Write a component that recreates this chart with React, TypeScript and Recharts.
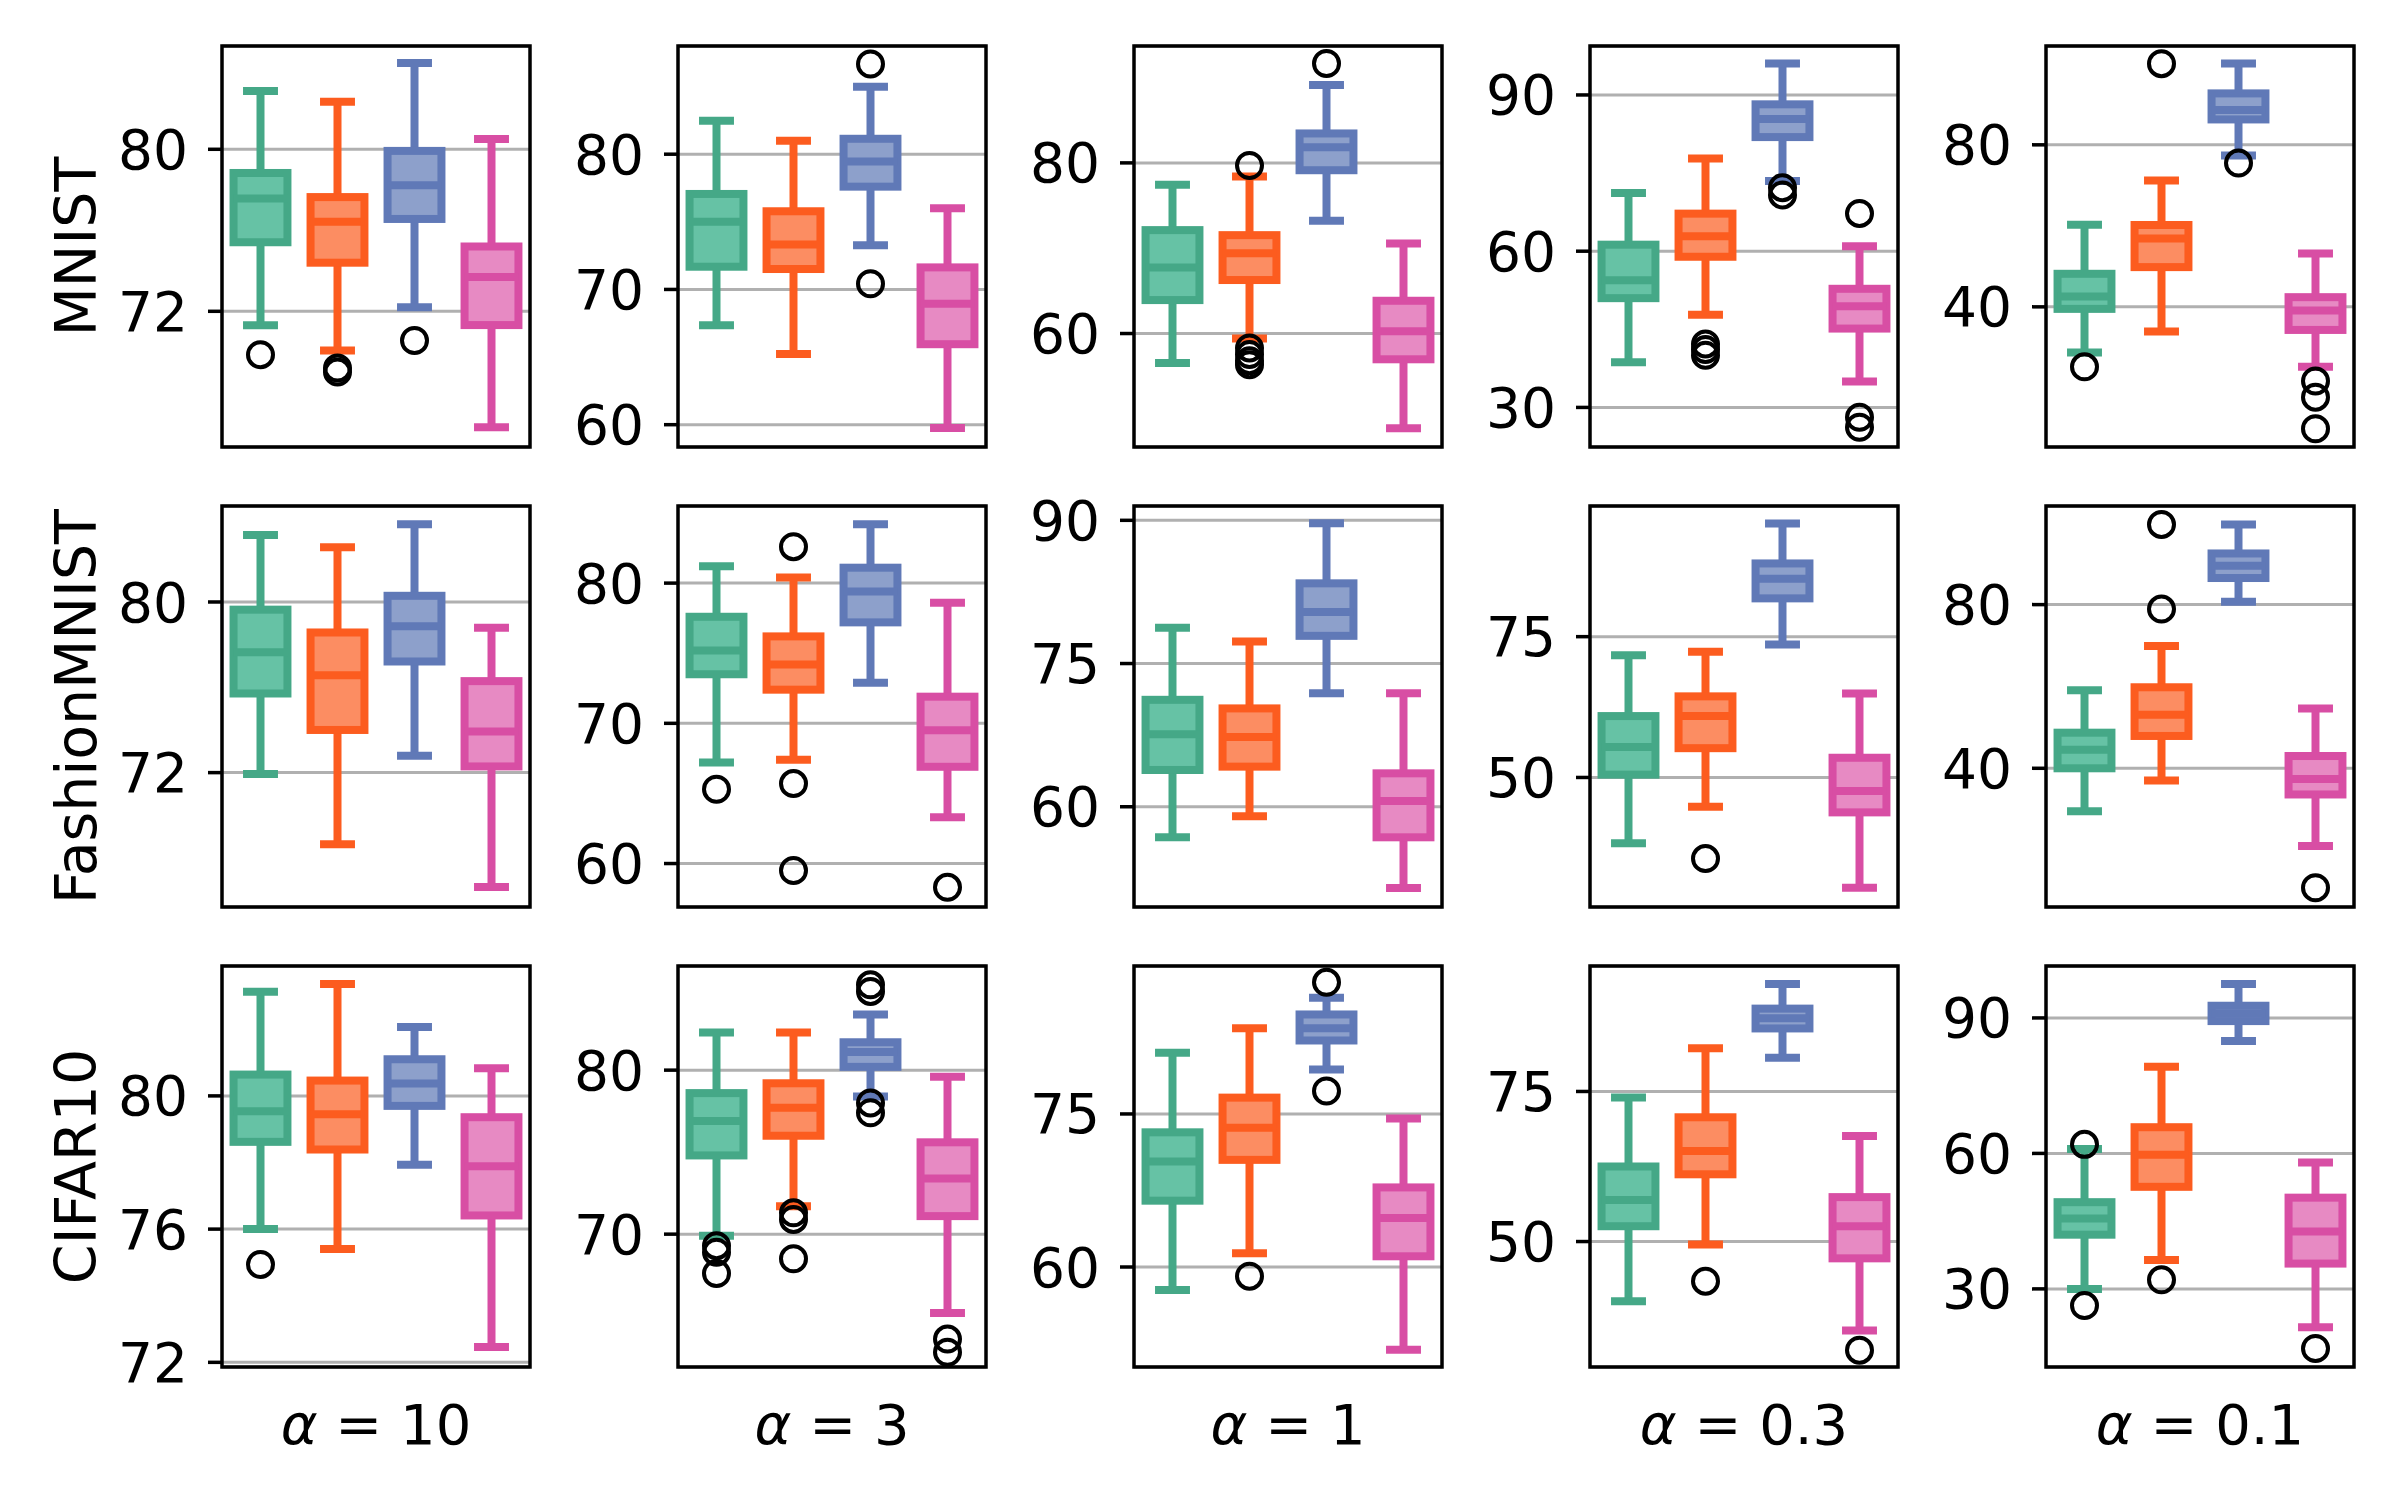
import React from "react";
import { ComposedChart, Bar, XAxis, YAxis, CartesianGrid } from "recharts";

const DATASETS = ["MNIST", "FashionMNIST", "CIFAR10"];
const ALPHAS = ["10", "3", "1", "0.3", "0.1"];
const METHODS = ["m1", "m2", "m3", "m4"];

const EDGE = ["#45a887", "#fc5c1f", "#6079b7", "#d84ea4"];
const FILL = ["#66c2a5", "#fc8d62", "#8da0cb", "#e78ac3"];
const FONT = "'DejaVu Sans', sans-serif";

// each method: [lower whisker, q1, median, q3, upper whisker]
const MNIST_10 = [
  [71.31, 75.41, 77.57, 78.83, 82.88],
  [70.07, 74.4, 76.42, 77.64, 82.35],
  [72.2, 76.56, 78.23, 79.92, 84.26],
  [66.27, 71.32, 73.7, 75.2, 80.51],
];
const MNIST_10_OUT = [[69.86], [69.2, 69.0], [70.56], []];

const MNIST_3 = [
  [67.36, 71.68, 75.01, 77.06, 82.47],
  [65.23, 71.51, 73.33, 75.78, 80.99],
  [73.26, 77.6, 79.46, 81.14, 84.99],
  [59.75, 65.95, 68.94, 71.63, 76.0],
];
const MNIST_3_OUT = [[], [], [86.67, 70.42], []];

const MNIST_1 = [
  [56.55, 63.92, 67.73, 72.12, 77.45],
  [59.41, 66.27, 69.41, 71.53, 78.39],
  [73.22, 79.14, 81.84, 83.45, 89.14],
  [48.9, 56.98, 60.27, 63.84, 70.55],
];
const MNIST_1_OUT = [[], [79.69, 58.31, 57.53, 56.82, 56.35], [91.65], []];

const MNIST_03 = [
  [38.66, 50.98, 54.42, 61.25, 71.19],
  [47.78, 58.93, 62.89, 67.21, 77.8],
  [73.5, 81.91, 85.38, 88.2, 96.03],
  [35.0, 45.14, 49.44, 52.78, 60.96],
];
const MNIST_03_OUT = [[], [42.2, 41.1, 40.0], [72.2, 70.8], [67.25, 28.1, 26.2]];

const MNIST_01 = [
  [28.7, 39.5, 42.56, 48.16, 60.29],
  [33.9, 49.81, 56.9, 60.21, 71.18],
  [77.36, 86.27, 88.6, 92.7, 100.1],
  [25.2, 34.3, 39.1, 42.39, 53.2],
];
const MNIST_01_OUT = [[25.2], [100.04], [75.5], [21.7, 17.7, 9.9]];

const FASHION_10 = [
  [71.93, 75.71, 77.64, 79.64, 83.14],
  [68.64, 74.0, 76.57, 78.57, 82.57],
  [72.79, 77.21, 78.86, 80.29, 83.64],
  [66.64, 72.29, 73.93, 76.29, 78.79],
];
const FASHION_10_OUT = [[], [], [], []];

const FASHION_3 = [
  [67.2, 73.5, 75.2, 77.6, 81.2],
  [67.4, 72.4, 74.2, 76.2, 80.4],
  [72.9, 77.2, 79.4, 81.1, 84.2],
  [63.3, 66.9, 69.5, 71.9, 78.6],
];
const FASHION_3_OUT = [[65.3], [82.6, 65.7, 59.5], [], [58.3]];

const FASHION_1 = [
  [56.8, 63.85, 67.6, 71.2, 78.76],
  [59.0, 64.2, 67.3, 70.3, 77.3],
  [71.9, 77.9, 80.4, 83.4, 89.7],
  [51.5, 56.8, 60.6, 63.5, 71.9],
];
const FASHION_1_OUT = [[], [], [], []];

const FASHION_03 = [
  [38.3, 50.5, 55.4, 60.9, 71.7],
  [44.8, 55.2, 60.9, 64.4, 72.3],
  [73.6, 81.8, 85.3, 88.0, 95.1],
  [30.4, 43.8, 47.6, 53.5, 64.9],
];
const FASHION_03_OUT = [[], [35.6], [], []];

const FASHION_01 = [
  [29.5, 40.0, 44.5, 48.7, 59.1],
  [37.0, 47.9, 53.1, 59.8, 69.9],
  [80.7, 86.5, 89.5, 92.5, 99.6],
  [21.0, 33.6, 37.4, 43.0, 54.6],
];
const FASHION_01_OUT = [[], [99.6, 78.9], [], [10.8]];

const CIFAR_10 = [
  [76.0, 78.62, 79.54, 80.64, 83.13],
  [75.4, 78.39, 79.45, 80.46, 83.36],
  [77.93, 79.7, 80.37, 81.1, 82.07],
  [72.46, 76.41, 77.89, 79.36, 80.83],
];
const CIFAR_10_OUT = [[74.94], [], [], []];

const CIFAR_3 = [
  [69.9, 74.8, 76.9, 78.6, 82.3],
  [71.7, 76.0, 77.7, 79.2, 82.3],
  [78.4, 80.2, 81.1, 81.7, 83.4],
  [65.2, 71.1, 73.4, 75.6, 79.6],
];
const CIFAR_3_OUT = [[69.3, 68.9, 67.6], [71.3, 70.9, 68.5], [85.2, 84.8, 78.0, 77.4], [63.6, 62.8]];

const CIFAR_1 = [
  [57.75, 66.5, 70.35, 73.2, 81.0],
  [61.35, 70.5, 73.65, 76.6, 83.4],
  [79.35, 82.2, 83.4, 84.75, 86.4],
  [51.9, 61.05, 64.8, 67.8, 74.55],
];
const CIFAR_1_OUT = [[], [59.1], [87.9, 77.25], []];

const CIFAR_03 = [
  [40.05, 52.55, 56.9, 62.5, 74.0],
  [49.5, 61.2, 65.1, 70.7, 82.2],
  [80.6, 85.5, 87.2, 88.8, 92.9],
  [35.2, 47.2, 52.55, 57.4, 67.6],
];
const CIFAR_03_OUT = [[], [43.4], [], [31.9]];

const CIFAR_01 = [
  [30.0, 42.0, 45.6, 49.2, 61.0],
  [36.4, 52.6, 59.7, 65.8, 79.2],
  [84.9, 89.3, 91.0, 92.7, 97.5],
  [21.5, 35.6, 42.7, 50.2, 58.0],
];
const CIFAR_01_OUT = [[62.0, 26.3], [32.0], [], [16.8]];

// y limits and ticks per panel (rows = datasets, cols = alphas)
const MNIST_Y = [[65.3, 85.1], [58.35, 88.0], [46.7, 93.7], [22.4, 99.4], [5.4, 104.4]];
const FASHION_Y = [[65.7, 84.5], [56.9, 85.5], [49.5, 91.5], [27.0, 98.2], [6.1, 104.1]];
const CIFAR_Y = [[71.86, 83.9], [61.9, 86.35], [50.2, 89.5], [29.1, 95.9], [12.7, 101.5]];

const MNIST_TICKS = [[72, 80], [60, 70, 80], [60, 80], [30, 60, 90], [40, 80]];
const FASHION_TICKS = [[72, 80], [60, 70, 80], [60, 75, 90], [50, 75], [40, 80]];
const CIFAR_TICKS = [[72, 76, 80], [70, 80], [60, 75], [50, 75], [30, 60, 90]];

const STATS = [
  [MNIST_10, MNIST_3, MNIST_1, MNIST_03, MNIST_01],
  [FASHION_10, FASHION_3, FASHION_1, FASHION_03, FASHION_01],
  [CIFAR_10, CIFAR_3, CIFAR_1, CIFAR_03, CIFAR_01],
];
const OUTLIERS = [
  [MNIST_10_OUT, MNIST_3_OUT, MNIST_1_OUT, MNIST_03_OUT, MNIST_01_OUT],
  [FASHION_10_OUT, FASHION_3_OUT, FASHION_1_OUT, FASHION_03_OUT, FASHION_01_OUT],
  [CIFAR_10_OUT, CIFAR_3_OUT, CIFAR_1_OUT, CIFAR_03_OUT, CIFAR_01_OUT],
];
const YLIMS = [MNIST_Y, FASHION_Y, CIFAR_Y];
const TICKS = [MNIST_TICKS, FASHION_TICKS, CIFAR_TICKS];

const PLOT_LEFT = 222;
const PLOT_TOP = 46;
const COL_STEP = 456;
const ROW_STEP = 460;
const PLOT_W = 308;
const PLOT_H = 401;
const AXIS_W = 140;
const PAD_V = 40; // room above/below the plot so edge tick labels are not clipped
const LW = 8;

function BoxShape(props: any) {
  const { x, y, width, height, index } = props;
  const d = props.payload ?? props;
  const top = Math.min(y, y + height);
  const h = Math.abs(height);
  const k = h / (d.hi - d.lo);
  const py = (v: number) => top + (d.hi - v) * k;
  const cx = x + width / 2;
  const bw = width * 0.7;
  const cap = width * 0.175;
  const edge = EDGE[index % 4];
  const fill = FILL[index % 4];
  return (
    <g>
      <line x1={cx} x2={cx} y1={py(d.hi)} y2={py(d.q3)} stroke={edge} strokeWidth={LW} />
      <line x1={cx} x2={cx} y1={py(d.q1)} y2={py(d.lo)} stroke={edge} strokeWidth={LW} />
      <line x1={cx - cap} x2={cx + cap} y1={py(d.hi)} y2={py(d.hi)} stroke={edge} strokeWidth={LW} strokeLinecap="square" />
      <line x1={cx - cap} x2={cx + cap} y1={py(d.lo)} y2={py(d.lo)} stroke={edge} strokeWidth={LW} strokeLinecap="square" />
      <rect x={cx - bw / 2} y={py(d.q3)} width={bw} height={py(d.q1) - py(d.q3)} fill={fill} stroke={edge} strokeWidth={LW} />
      <line x1={cx - bw / 2} x2={cx + bw / 2} y1={py(d.med)} y2={py(d.med)} stroke={edge} strokeWidth={LW} />
      {d.out.map((v: number, i: number) => (
        <circle key={i} cx={cx} cy={py(v)} r={12.5} fill="none" stroke="#000" strokeWidth={4} />
      ))}
    </g>
  );
}

function Panel({ r, c }: { r: number; c: number }) {
  const stats = STATS[r][c];
  const outs = OUTLIERS[r][c];
  const data = METHODS.map((m, i) => ({
    name: m,
    lo: stats[i][0],
    q1: stats[i][1],
    med: stats[i][2],
    q3: stats[i][3],
    hi: stats[i][4],
    out: outs[i],
  }));
  return (
    <div
      style={{
        position: "absolute",
        left: PLOT_LEFT + c * COL_STEP - AXIS_W,
        top: PLOT_TOP + r * ROW_STEP - PAD_V,
      }}
    >
      <ComposedChart
        width={AXIS_W + PLOT_W}
        height={PLOT_H + 2 * PAD_V}
        data={data}
        margin={{ top: PAD_V, right: 0, bottom: PAD_V, left: 0 }}
        barCategoryGap="0%"
      >
        <CartesianGrid vertical={false} stroke="#b0b0b0" strokeWidth={3} />
        <XAxis dataKey="name" hide />
        <YAxis
          type="number"
          domain={YLIMS[r][c]}
          ticks={TICKS[r][c]}
          allowDataOverflow
          interval={0}
          width={AXIS_W}
          axisLine={false}
          tickSize={14}
          tickMargin={20}
          tickLine={{ stroke: "#000", strokeWidth: 3.5 }}
          tick={{ fill: "#000", fontSize: 55, fontFamily: FONT }}
        />
        <Bar
          dataKey={(d: any) => [d.lo, d.hi]}
          shape={BoxShape}
          isAnimationActive={false}
        />
      </ComposedChart>
    </div>
  );
}

export default function App() {
  return (
    <div
      style={{
        position: "absolute",
        left: 0,
        top: 0,
        width: 2400,
        height: 1500,
        background: "#fff",
        fontFamily: FONT,
        overflow: "hidden",
      }}
    >
      {DATASETS.map((_, r) =>
        ALPHAS.map((__, c) => <Panel key={`${r}-${c}`} r={r} c={c} />)
      )}
      <svg
        width={2400}
        height={1500}
        style={{ position: "absolute", left: 0, top: 0, pointerEvents: "none" }}
      >
        {DATASETS.map((_, r) =>
          ALPHAS.map((__, c) => (
            <rect
              key={`f${r}-${c}`}
              x={PLOT_LEFT + c * COL_STEP}
              y={PLOT_TOP + r * ROW_STEP}
              width={PLOT_W}
              height={PLOT_H}
              fill="none"
              stroke="#000"
              strokeWidth={3.5}
            />
          ))
        )}
        {DATASETS.map((name, r) => {
          const cy = PLOT_TOP + r * ROW_STEP + PLOT_H / 2;
          return (
            <text
              key={name}
              x={96}
              y={cy}
              transform={`rotate(-90, 96, ${cy})`}
              textAnchor="middle"
              fontSize={57}
              fontFamily={FONT}
              fill="#000"
            >
              {name}
            </text>
          );
        })}
        {ALPHAS.map((a, c) => (
          <text
            key={a}
            x={PLOT_LEFT + c * COL_STEP + PLOT_W / 2}
            y={1444}
            textAnchor="middle"
            fontSize={56}
            fontFamily={FONT}
            fill="#000"
          >
            <tspan fontStyle="italic">α</tspan>
            <tspan> = {a}</tspan>
          </text>
        ))}
      </svg>
    </div>
  );
}
